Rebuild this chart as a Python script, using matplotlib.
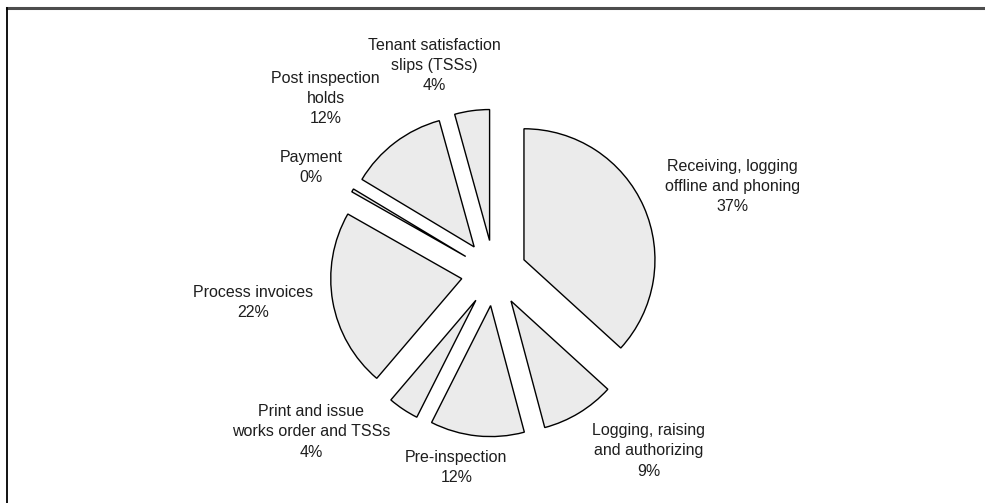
import matplotlib.pyplot as plt
import numpy as np
from matplotlib.lines import Line2D

# slice data, clockwise from 12 o'clock
names = ["Receiving, logging\noffline and phoning",
         "Logging, raising\nand authorizing",
         "Pre-inspection",
         "Print and issue\nworks order and TSSs",
         "Process invoices",
         "Payment",
         "Post inspection\nholds",
         "Tenant satisfaction\nslips (TSSs)"]
shares = [36.8, 9.1, 11.6, 3.8, 22.0, 0.4, 12.1, 4.3]

# label placement (angle clockwise from top in degrees, distance in radii)
label_ang = [70, 139, 191, 229, 263, 300, 316, 344]
label_dist = [1.94, 1.80, 1.51, 1.85, 1.855, 1.61, 1.85, 1.65]

W, H = 985, 503
R = 131.0          # pie radius in pixels
cx, cy = 494, 230  # pie centre in pixels (from bottom-left)

fig = plt.figure(figsize=(W / 100, H / 100), dpi=100)
ax = fig.add_axes([0, 0, 1, 1])

wedges, _ = ax.pie(shares, explode=[0.25] * len(shares), startangle=90,
                   counterclock=False, colors=["#ebebeb"] * len(shares),
                   wedgeprops=dict(edgecolor="black", linewidth=1.0))

ax.set_xlim(-cx / R, (W - cx) / R)
ax.set_ylim(-cy / R, (H - cy) / R)
ax.set_aspect("auto")
ax.axis("off")

for name, val, a, d in zip(names, shares, label_ang, label_dist):
    t = np.deg2rad(a)
    ax.text(d * np.sin(t), d * np.cos(t), "%s\n%d%%" % (name, round(val)),
            ha="center", va="center", fontsize=11.5, linespacing=1.42,
            family="Liberation Sans", color="#1e1e1e")

# frame: top and left only
fig.add_artist(Line2D([7 / W, 1], [1 - 8 / H, 1 - 8 / H], color="#4d4d4d",
                      linewidth=2.2, transform=fig.transFigure))
fig.add_artist(Line2D([7 / W, 7 / W], [0, 1 - 8 / H], color="black",
                      linewidth=1.3, transform=fig.transFigure))

fig.savefig("out.png", dpi=100)
